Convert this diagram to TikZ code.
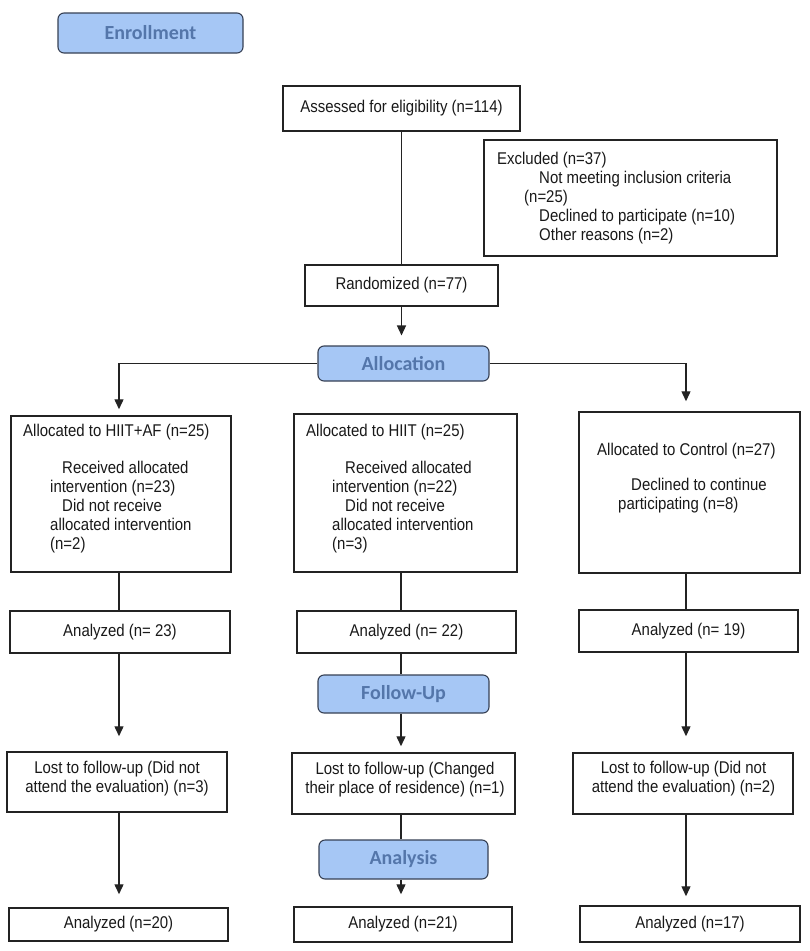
\documentclass[tikz,border=0pt]{standalone}
\usepackage{fontspec}
\setmainfont{Liberation Sans}[FakeStretch=0.88]
\newfontfamily\hdrfont{Carlito}
\usetikzlibrary{arrows.meta}
\definecolor{hdrfill}{RGB}{166,199,245}
\definecolor{hdrtext}{RGB}{84,118,170}
\definecolor{hdrdraw}{RGB}{55,65,85}
\definecolor{linec}{RGB}{35,35,35}
\definecolor{txtc}{RGB}{25,25,25}
\begin{document}
\begin{tikzpicture}[x=1pt,y=-1pt,
  box/.style={draw=linec, line width=1.5pt, fill=white, inner sep=0pt,
    font=\fontsize{17}{19}\selectfont, text=txtc},
  hdr/.style={draw=hdrdraw, line width=1.1pt, fill=hdrfill, rounded corners=6pt,
    inner sep=0pt, font=\hdrfont\bfseries\fontsize{20}{22}\selectfont, text=hdrtext},
  txt/.style={inner sep=0pt, font=\fontsize{17}{19}\selectfont, text=txtc},
  conn/.style={draw=linec, line width=1.4pt},
  arr/.style={conn, -{Triangle[width=9pt,length=10pt]}},
]
\path[use as bounding box, fill=white] (0,0) rectangle (810,951);

% column coordinates
\coordinate (cA) at (119,0);
\coordinate (cB) at (401,0);
\coordinate (cC) at (686,0);

% header boxes
\node[hdr, minimum width=185pt, minimum height=40pt] (enroll) at (150.5,33) {Enrollment};
\node[hdr, minimum width=171pt, minimum height=35pt] (alloc) at (403.5,363.5) {Allocation};
\node[hdr, minimum width=171pt, minimum height=38pt] (fu) at (403.5,694) {Follow-Up};
\node[hdr, minimum width=169pt, minimum height=39pt] (ana) at (403.5,859.5) {Analysis};

% enrollment
\node[box, minimum width=237pt, minimum height=45pt] (assess) at (401.5,108.5) {Assessed for eligibility (n=114)};
\node[box, minimum width=293pt, minimum height=116pt] (excl) at (630.5,198) {};
\node[txt, align=left, anchor=north west] (excltext) at (497,151)
  {\strut Excluded (n=37)\\
   \hspace*{42pt}\strut Not meeting inclusion criteria\\
   \hspace*{27pt}\strut (n=25)\\
   \hspace*{42pt}\strut Declined to participate (n=10)\\
   \hspace*{42pt}\strut Other reasons (n=2)};
\node[box, minimum width=193pt, minimum height=41pt] (rand) at (401.5,285.5) {Randomized (n=77)};

% allocation arms
\node[box, minimum width=220pt, minimum height=156pt] (armA) at (121,494) {};
\node[txt, align=left, anchor=north west] (armAtext) at (23,423)
  {\strut Allocated to HIIT+AF (n=25)\\[18pt]
   \hspace*{39pt}\strut Received allocated\\
   \hspace*{27pt}\strut intervention (n=23)\\
   \hspace*{39pt}\strut Did not receive\\
   \hspace*{27pt}\strut allocated intervention\\
   \hspace*{27pt}\strut (n=2)};
\node[box, minimum width=223pt, minimum height=158pt] (armB) at (405.5,493) {};
\node[txt, align=left, anchor=north west] (armBtext) at (306,423)
  {\strut Allocated to HIIT (n=25)\\[18pt]
   \hspace*{39pt}\strut Received allocated\\
   \hspace*{26pt}\strut intervention (n=22)\\
   \hspace*{39pt}\strut Did not receive\\
   \hspace*{26pt}\strut allocated intervention\\
   \hspace*{26pt}\strut (n=3)};
\node[box, minimum width=221pt, minimum height=161pt] (armC) at (689.5,492.5) {};
\node[txt, align=left, anchor=north west] (armCtext) at (597,442)
  {\strut Allocated to Control (n=27)\\[16pt]
   \hspace*{34pt}\strut Declined to continue\\
   \hspace*{21pt}\strut participating (n=8)};

% analyzed
\node[box, minimum width=220pt, minimum height=42pt] (anA) at (120,632) {Analyzed (n= 23)};
\node[box, minimum width=219pt, minimum height=42pt] (anB) at (406.5,632) {Analyzed (n= 22)};
\node[box, minimum width=219pt, minimum height=42pt] (anC) at (688.5,631) {Analyzed (n= 19)};

% lost to follow-up
\node[box, minimum width=220pt, minimum height=60pt] (lostA) at (117,782) {};
\node[txt, align=center] (lostAtext) at (117,779)
  {\strut Lost to follow-up (Did not\\ \strut attend the evaluation) (n=3)};
\node[box, minimum width=223pt, minimum height=61pt] (lostB) at (403.5,783.5) {};
\node[txt, align=center] (lostBtext) at (405,780)
  {\strut Lost to follow-up (Changed\\ \strut their place of residence) (n=1)};
\node[box, minimum width=220pt, minimum height=61pt] (lostC) at (683,783.5) {};
\node[txt, align=center] (lostCtext) at (683.5,779)
  {\strut Lost to follow-up (Did not\\ \strut attend the evaluation) (n=2)};

% final analyzed
\node[box, minimum width=219pt, minimum height=33pt] (finA) at (118.5,924.5) {Analyzed (n=20)};
\node[box, minimum width=218pt, minimum height=35pt] (finB) at (403,924.5) {Analyzed (n=21)};
\node[box, minimum width=220pt, minimum height=36pt] (finC) at (690,924) {Analyzed (n=17)};

% connectors
\draw[conn] (assess.south) -- (assess.south |- rand.north);
\draw[arr, shorten >=10pt] (rand.south) -- (rand.south |- alloc.north);
\draw[arr, shorten >=6pt] (alloc.west) -| (cA |- armA.north);
\draw[arr, shorten >=10pt] (alloc.east) -| (cC |- armC.north);
\draw[conn] (cA |- armA.south) -- (cA |- anA.north);
\draw[conn] (cB |- armB.south) -- (cB |- anB.north);
\draw[conn] (cC |- armC.south) -- (cC |- anC.north);
\draw[arr, shorten >=15pt] (cA |- anA.south) -- (cA |- lostA.north);
\draw[conn] (cB |- anB.south) -- (cB |- fu.north);
\draw[arr, shorten >=6pt] (cB |- fu.south) -- (cB |- lostB.north);
\draw[arr, shorten >=16pt] (cC |- anC.south) -- (cC |- lostC.north);
\draw[arr, shorten >=13pt] (cA |- lostA.south) -- (cA |- finA.north);
\draw[conn] (cB |- lostB.south) -- (cB |- ana.north);
\draw[arr, shorten >=12pt] (cB |- ana.south) -- (cB |- finB.north);
\draw[arr, shorten >=9pt] (cC |- lostC.south) -- (cC |- finC.north);
\end{tikzpicture}
\end{document}
